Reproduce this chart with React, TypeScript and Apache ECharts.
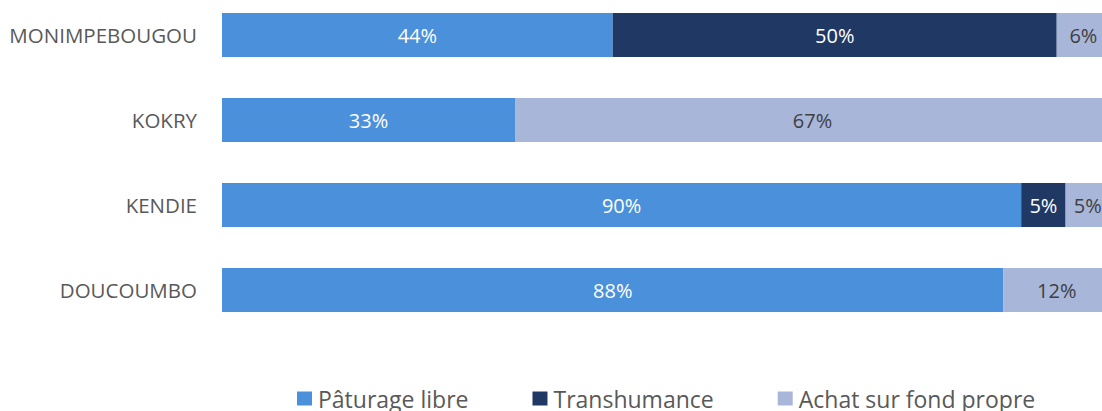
import React, { useEffect, useRef } from "react";
import * as echarts from "echarts";

const categories = ["MONIMPEBOUGOU", "KOKRY", "KENDIE", "DOUCOUMBO"];
const seriesNames = ["Pâturage libre", "Transhumance", "Achat sur fond propre"];
const paturage = [44, 33, 90, 88];
const transhumance = [50, 0, 5, 0];
const achat = [6, 67, 5, 12];
const colors = ["#4A90DA", "#203864", "#A8B6DA"];
const labelColors = ["#FFFFFF", "#FFFFFF", "#404040"];

export default function App() {
  const ref = useRef<HTMLDivElement>(null);
  useEffect(() => {
    if (!ref.current) return;
    const chart = echarts.init(ref.current, null, { renderer: "svg" });
    const values = [paturage, transhumance, achat];
    const font = "'Open Sans', 'Liberation Sans', sans-serif";
    chart.setOption({
      animation: false,
      textStyle: { fontFamily: font },
      grid: { left: 222, width: 888, top: -7.5, height: 340, outerBoundsMode: "none", containLabel: false },
      legend: {
        top: 382,
        left: 292,
        itemWidth: 15,
        itemHeight: 14,
        itemGap: 64,
        icon: "rect",
        textStyle: { fontSize: 23, color: "#595959", fontFamily: font, padding: [0, 0, 0, 1] },
        data: seriesNames,
      },
      xAxis: {
        type: "value",
        min: 0,
        max: 100,
        show: false,
      },
      yAxis: {
        type: "category",
        data: categories,
        inverse: true,
        axisLine: { show: false },
        axisTick: { show: false },
        axisLabel: { fontSize: 20.5, color: "#595959", margin: 25, fontFamily: font },
      },
      series: seriesNames.map((name, i) => ({
        name,
        type: "bar",
        stack: "total",
        barWidth: 44,
        data: values[i],
        itemStyle: { color: colors[i] },
        label: {
          show: true,
          position: "inside",
          fontSize: 20,
          color: labelColors[i],
          fontFamily: font,
          formatter: (p: any) => (p.value > 0 ? p.value + "%" : ""),
        },
      })),
    });
    return () => chart.dispose();
  }, []);
  return (
    <div
      ref={ref}
      style={{ position: "fixed", left: 0, top: 0, width: 1102, height: 411, background: "#fff" }}
    />
  );
}
